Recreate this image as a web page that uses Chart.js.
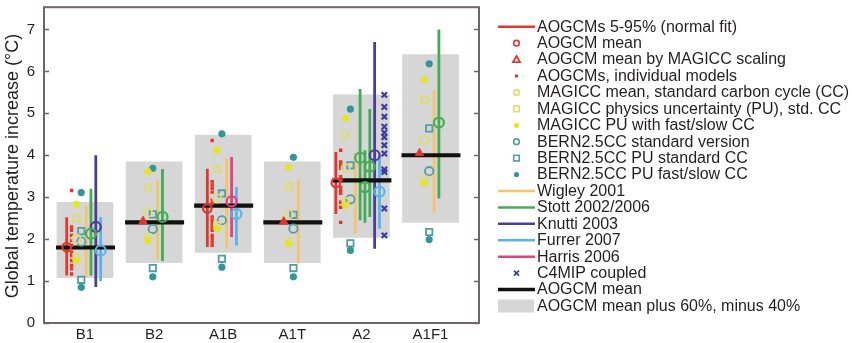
<!DOCTYPE html>
<html>
<head>
<meta charset="utf-8">
<script src="https://cdn.jsdelivr.net/npm/chart.js@4.4.0/dist/chart.umd.min.js"></script>
<style>
  html, body { margin: 0; padding: 0; background: #fff; }
  #wrap { width: 852px; height: 343px; position: relative; }
</style>
</head>
<body>
<div id="wrap"><canvas id="chart"></canvas></div>
<script>
// values (deg C), one entry per scenario
const scenarios = ['B1', 'B2', 'A1B', 'A1T', 'A2', 'A1F1']
const yTicks = [0, 1, 2, 3, 4, 5, 6, 7]

const aogcmMean = [1.8, 2.4, 2.8, 2.4, 3.4, 4.0]
const boxLow = [1.08, 1.44, 1.68, 1.44, 2.04, 2.4]
const boxHigh = [2.88, 3.84, 4.48, 3.84, 5.44, 6.4]

const aogcmLow = [1.13, null, 1.81, null, 2.6, null]
const aogcmHigh = [2.52, null, 3.68, null, 4.08, null]
const aogcmModelMean = [1.81, null, 2.73, null, 3.34, null]
const magiccScaled = [null, 2.43, null, 2.42, null, 4.05]
const aogcmModels = [
  [3.16, 2.29, 2.21, 2.09, 1.97, 1.85, 1.69, 1.61, 1.49, 1.37, 1.29, 1.17],
  [],
  [4.35, 3.37, 3.29, 3.21, 3.12, 2.93, 2.85, 2.53, 2.45, 2.37, 2.29, 2.21, 2.09, 2.01, 1.93, 1.85],
  [],
  [4.12, 3.84, 3.76, 3.69, 3.49, 3.41, 3.24, 3.16, 3.09, 2.88, 2.76, 2.40],
  []
]

const magiccMean = [2.01, 2.63, 2.97, 2.59, 3.69, 4.36]
const magiccPuLow = [1.57, 2.05, 2.33, 1.95, 2.9, 3.42]
const magiccPuHigh = [2.49, 3.23, 3.68, 3.25, 4.48, 5.32]
const magiccFsLow = [1.49, 1.97, 2.25, 1.89, 2.81, 3.33]
const magiccFsHigh = [2.83, 3.61, 4.12, 3.71, 4.88, 5.80]

const bernMean = [1.94, 2.24, 2.45, 2.25, 2.95, 3.62]
const bernPuLow = [1.03, 1.31, 1.53, 1.31, 1.90, 2.17]
const bernPuHigh = [2.19, 2.59, 3.09, 2.58, 3.76, 4.64]
const bernFsLow = [0.85, 1.10, 1.33, 1.10, 1.73, 1.99]
const bernFsHigh = [3.11, 3.69, 4.51, 3.95, 5.10, 6.18]

const wigleyLow = [1.1, 1.52, 1.77, 1.42, 2.13, 2.62]
const wigleyHigh = [2.8, 3.41, 3.92, 3.42, 4.06, 5.55]

const stottLow = [[1.13], [1.48], [], [], [2.45, 2.39, 2.53], [2.97]]
const stottMid = [[2.13], [2.53], [], [], [3.94, 3.24, 3.73], [4.78]]
const stottHigh = [[3.2], [3.67], [], [], [5.58, 4.12, 5.10], [7.0]]

const harrisLow = [null, null, 2.05, null, null, null]
const harrisMid = [null, null, 2.9, null, null, null]
const harrisHigh = [null, null, 3.96, null, null, null]

const knuttiLow = [0.86, null, null, null, 1.77, null]
const knuttiMid = [2.29, null, null, null, 4.0, null]
const knuttiHigh = [4.0, null, null, null, 6.70, null]

const furrerLow = [1.0, null, 1.85, null, 2.25, null]
const furrerMid = [1.73, null, 2.6, null, 3.13, null]
const furrerHigh = [2.53, null, 3.24, null, 4.0, null]

const c4mip = [[], [], [], [], [5.44, 5.15, 4.92, 4.68, 4.54, 4.43, 4.24, 4.04, 3.66, 3.60, 2.73, 2.09], []]

// colours
const RED = '#e2372c'
const YEL = '#e4e42c'
const YEL_OPEN = '#dfdc70'
const TEAL = '#33979a'
const TEAL_OPEN = '#529ea6'
const WIGLEY = '#f5c46c'
const STOTT = '#44ac54'
const KNUTTI = '#4a3e98'
const FURRER = '#5ab4ea'
const HARRIS = '#e2437f'
const C4 = '#3d3f9c'
const BOX = '#d6d6d6'
const TEXT = '#231f20'
const FONT = '"Liberation Sans", Arial, sans-serif'

// side-by-side slots inside each scenario column
const PX = 1 / 69.1
function slotsFor(i) {
  const slots = []
  if (aogcmLow[i] != null) slots.push('aogcm', 'models')
  if (magiccScaled[i] != null) slots.push('scaled')
  slots.push('magicc', 'bern', 'wigley')
  stottLow[i].forEach((_, k) => slots.push('stott' + k))
  if (harrisLow[i] != null) slots.push('harris')
  if (knuttiLow[i] != null) slots.push('knutti')
  if (furrerLow[i] != null) slots.push('furrer')
  if (c4mip[i].length) slots.push('c4mip')
  const pos = {}
  slots.forEach((s, k) => { pos[s] = i + (-1.3 + (k - (slots.length - 1) / 2) * 4.85) * PX })
  return pos
}
const pos = scenarios.map((_, i) => slotsFor(i))

function ranges(key, low, high) {
  const d = []
  low.forEach((lo, i) => {
    if (lo == null) return
    const x = pos[i][key]
    d.push({x, y: lo}, {x, y: high[i]}, {x, y: null})
  })
  return d
}
function pts(key, vals) {
  const d = []
  vals.forEach((v, i) => { if (v != null) d.push({x: pos[i][key], y: v}) })
  return d
}
function listPts(key, lists) {
  const d = []
  lists.forEach((l, i) => l.forEach(v => d.push({x: pos[i][key], y: v})))
  return d
}
function stottRanges() {
  const d = []
  stottLow.forEach((l, i) => l.forEach((lo, k) => {
    const x = pos[i]['stott' + k]
    d.push({x, y: lo}, {x, y: stottHigh[i][k]}, {x, y: null})
  }))
  return d
}
function stottMeans() {
  const d = []
  stottMid.forEach((l, i) => l.forEach((v, k) => d.push({x: pos[i]['stott' + k], y: v})))
  return d
}

const meanLine = []
aogcmMean.forEach((m, i) => {
  meanLine.push({x: i - 29 * PX, y: m}, {x: i + 30 * PX, y: m}, {x: i, y: null})
})

const lineDs = (data, color, width, order) => ({
  type: 'line', data, borderColor: color, borderWidth: width, pointRadius: 0,
  spanGaps: false, borderCapStyle: 'butt', order
})
const markDs = (data, style, radius, stroke, fill, bw, order) => ({
  type: 'scatter', data, pointStyle: style, pointRadius: radius, pointHoverRadius: radius,
  borderColor: stroke, backgroundColor: fill, borderWidth: bw, order
})

const datasets = [
  {
    type: 'bar', order: 100, backgroundColor: BOX, barThickness: 56,
    data: scenarios.map((_, i) => ({x: i, y: [boxLow[i], boxHigh[i]]}))
  },
  lineDs(ranges('aogcm', aogcmLow, aogcmHigh), RED, 2.8, 60),
  lineDs(ranges('wigley', wigleyLow, wigleyHigh), WIGLEY, 2.8, 60),
  lineDs(stottRanges(), STOTT, 2.8, 60),
  lineDs(ranges('harris', harrisLow, harrisHigh), HARRIS, 2.8, 60),
  lineDs(ranges('knutti', knuttiLow, knuttiHigh), KNUTTI, 2.8, 60),
  lineDs(ranges('furrer', furrerLow, furrerHigh), FURRER, 2.8, 60),
  lineDs(meanLine, '#111111', 4.2, 50),
  markDs(stottMeans(), 'circle', 5, STOTT, 'rgba(0,0,0,0)', 2.2, 20),
  markDs(pts('harris', harrisMid), 'circle', 5, HARRIS, 'rgba(0,0,0,0)', 2.2, 20),
  markDs(pts('knutti', knuttiMid), 'circle', 5, KNUTTI, 'rgba(0,0,0,0)', 2.2, 20),
  markDs(pts('furrer', furrerMid), 'circle', 5, FURRER, 'rgba(0,0,0,0)', 2.2, 20),
  markDs(listPts('models', aogcmModels), 'rect', 2.4, RED, RED, 0, 15),
  markDs(pts('aogcm', aogcmModelMean), 'circle', 4.3, RED, 'rgba(0,0,0,0)', 2.2, 12),
  markDs(pts('scaled', magiccScaled), 'triangle', 4.8, RED, RED, 1, 12),
  markDs(pts('magicc', magiccMean), 'circle', 4.2, YEL_OPEN, 'rgba(0,0,0,0)', 1.8, 14),
  markDs(pts('magicc', magiccPuLow).concat(pts('magicc', magiccPuHigh)), 'rect', 4.5, YEL_OPEN, 'rgba(0,0,0,0)', 1.8, 14),
  markDs(pts('magicc', magiccFsLow).concat(pts('magicc', magiccFsHigh)), 'circle', 3.6, YEL, YEL, 0, 13),
  markDs(pts('bern', bernMean), 'circle', 4.2, TEAL_OPEN, 'rgba(0,0,0,0)', 1.8, 14),
  markDs(pts('bern', bernPuLow).concat(pts('bern', bernPuHigh)), 'rect', 4.5, TEAL_OPEN, 'rgba(0,0,0,0)', 1.8, 14),
  markDs(pts('bern', bernFsLow).concat(pts('bern', bernFsHigh)), 'circle', 3.6, TEAL, TEAL, 0, 13),
  markDs(listPts('c4mip', c4mip), 'crossRot', 3.8, C4, C4, 2.2, 11)
]

const legendItems = [
  {kind: 'line', color: RED, text: 'AOGCMs 5-95% (normal fit)'},
  {kind: 'ring', color: RED, text: 'AOGCM mean'},
  {kind: 'tri', color: RED, text: 'AOGCM mean by MAGICC scaling'},
  {kind: 'dot', color: RED, text: 'AOGCMs, individual models'},
  {kind: 'ring', color: YEL_OPEN, text: 'MAGICC mean, standard carbon cycle (CC)'},
  {kind: 'square', color: YEL_OPEN, text: 'MAGICC physics uncertainty (PU), std. CC'},
  {kind: 'disc', color: YEL, text: 'MAGICC PU with fast/slow CC'},
  {kind: 'ring', color: TEAL_OPEN, text: 'BERN2.5CC standard version'},
  {kind: 'square', color: TEAL_OPEN, text: 'BERN2.5CC PU standard CC'},
  {kind: 'disc', color: TEAL, text: 'BERN2.5CC PU fast/slow CC'},
  {kind: 'line', color: WIGLEY, text: 'Wigley 2001'},
  {kind: 'line', color: STOTT, text: 'Stott 2002/2006'},
  {kind: 'line', color: KNUTTI, text: 'Knutti 2003'},
  {kind: 'line', color: FURRER, text: 'Furrer 2007'},
  {kind: 'line', color: HARRIS, text: 'Harris 2006'},
  {kind: 'cross', color: C4, text: 'C4MIP coupled'},
  {kind: 'thick', color: '#111111', text: 'AOGCM mean'},
  {kind: 'box', color: BOX, text: 'AOGCM mean plus 60%, minus 40%'}
]

const framePlugin = {
  id: 'frame',
  afterDraw(chart) {
    const {ctx, chartArea: a} = chart
    const y = chart.scales.y
    ctx.save()
    // inward ticks on both sides
    ctx.strokeStyle = '#6f6767'
    ctx.lineWidth = 1.5
    yTicks.forEach(t => {
      const py = Math.round(y.getPixelForValue(t)) + 0.5
      ctx.beginPath()
      ctx.moveTo(a.left, py); ctx.lineTo(a.left + 5, py)
      ctx.moveTo(a.right, py); ctx.lineTo(a.right - 5, py)
      ctx.stroke()
    })
    ctx.lineWidth = 2
    ctx.strokeRect(a.left, a.top, a.right - a.left, a.bottom - a.top)

    // y title
    ctx.fillStyle = TEXT
    ctx.font = '18px ' + FONT
    ctx.textAlign = 'center'
    ctx.textBaseline = 'middle'
    ctx.translate(13, 166)
    ctx.rotate(-Math.PI / 2)
    ctx.fillText('Global temperature increase (\u00b0C)', 0, 0)
    ctx.restore()

    // legend
    ctx.save()
    ctx.font = '16px ' + FONT
    ctx.textBaseline = 'middle'
    ctx.textAlign = 'left'
    legendItems.forEach((it, k) => {
      const ry = 26.7 + 16.43 * k
      const mx = 516.5
      ctx.strokeStyle = it.color
      ctx.fillStyle = it.color
      if (it.kind === 'line' || it.kind === 'thick') {
        ctx.lineWidth = it.kind === 'thick' ? 3.5 : 2.5
        ctx.beginPath(); ctx.moveTo(498, ry); ctx.lineTo(535, ry); ctx.stroke()
      } else if (it.kind === 'box') {
        ctx.fillRect(498, ry - 6.5, 36, 13)
      } else if (it.kind === 'ring') {
        ctx.lineWidth = 1.6
        ctx.beginPath(); ctx.arc(mx, ry, 2.8, 0, Math.PI * 2); ctx.stroke()
      } else if (it.kind === 'square') {
        ctx.lineWidth = 1.6
        ctx.strokeRect(mx - 2.8, ry - 2.8, 5.6, 5.6)
      } else if (it.kind === 'disc') {
        ctx.beginPath(); ctx.arc(mx, ry, 2.6, 0, Math.PI * 2); ctx.fill()
      } else if (it.kind === 'dot') {
        ctx.fillRect(mx - 1.5, ry - 1.5, 3, 3)
      } else if (it.kind === 'tri') {
        ctx.lineWidth = 1.8
        ctx.beginPath(); ctx.moveTo(mx, ry - 3.5); ctx.lineTo(mx + 3.5, ry + 2.5); ctx.lineTo(mx - 3.5, ry + 2.5)
        ctx.closePath(); ctx.stroke()
      } else if (it.kind === 'cross') {
        ctx.lineWidth = 1.8
        ctx.beginPath()
        ctx.moveTo(mx - 2.5, ry - 2.5); ctx.lineTo(mx + 2.5, ry + 2.5)
        ctx.moveTo(mx + 2.5, ry - 2.5); ctx.lineTo(mx - 2.5, ry + 2.5)
        ctx.stroke()
      }
      ctx.fillStyle = TEXT
      ctx.fillText(it.text, 537, ry + 0.5)
    })
    ctx.restore()
  }
}

new Chart(document.getElementById('chart'), {
  type: 'scatter',
  data: {datasets},
  options: {
    responsive: true,
    maintainAspectRatio: false,
    animation: false,
    events: [],
    layout: {padding: {left: 0, right: 373, top: 7, bottom: 0}},
    plugins: {legend: {display: false}, tooltip: {enabled: false}},
    scales: {
      x: {
        type: 'linear', min: -0.593, max: 5.702, offset: false,
        afterBuildTicks: s => { s.ticks = scenarios.map((_, i) => ({value: i})) },
        afterFit: s => { s.height = 20; s.paddingLeft = 0; s.paddingRight = 0 },
        grid: {display: false, drawTicks: false, offset: false},
        border: {display: false},
        ticks: {
          callback: v => scenarios[v], padding: 3, maxRotation: 0, autoSkip: false,
          color: TEXT, font: {family: FONT, size: 15}
        }
      },
      y: {
        min: 0, max: 7.53,
        afterBuildTicks: s => { s.ticks = yTicks.map(v => ({value: v})) },
        afterFit: s => { s.width = 44; s.paddingTop = 0; s.paddingBottom = 0 },
        grid: {display: false, drawTicks: false},
        border: {display: false},
        ticks: {padding: 9, color: TEXT, font: {family: FONT, size: 15}}
      }
    }
  },
  plugins: [framePlugin]
})
</script>
</body>
</html>
